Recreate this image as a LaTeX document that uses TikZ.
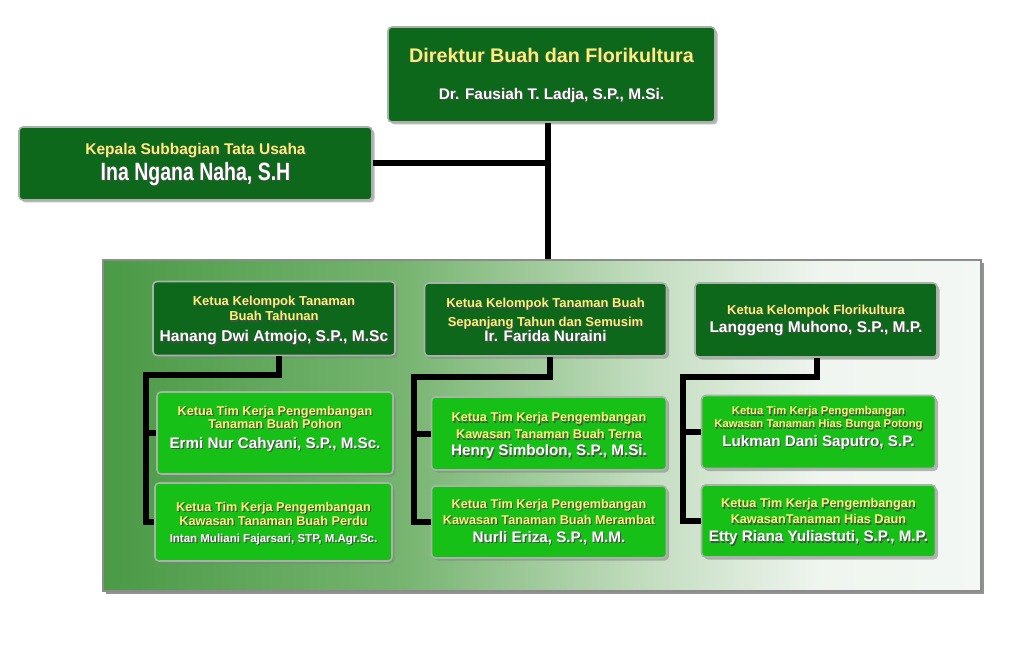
\documentclass[tikz,border=0pt]{standalone}
\usepackage{fontspec}
\setmainfont{Liberation Sans}
\newfontfamily\narrowfont[FakeStretch=0.78]{Liberation Sans}
\usetikzlibrary{shadows}
\definecolor{dgreen}{RGB}{13,104,28}
\definecolor{bgreen}{RGB}{22,192,22}
\definecolor{ylw}{RGB}{244,244,118}
\definecolor{bevel}{RGB}{168,178,168}
\definecolor{pg1}{RGB}{74,154,70}
\definecolor{pg2}{RGB}{118,180,112}
\definecolor{pg3}{RGB}{190,218,186}
\definecolor{pg4}{RGB}{240,245,240}
\pgfdeclarehorizontalshading{panelshade}{100bp}{color(0bp)=(pg1); color(25bp)=(pg1); color(42bp)=(pg2); color(55bp)=(pg3); color(66bp)=(pg4); color(100bp)=(white)}
\newcommand\shd[2]{\makebox[0pt][l]{\smash{\raisebox{-1.1pt}{\hspace{1.1pt}\textcolor{black!70}{#2}}}}\textcolor{#1}{#2}}
\newcommand\yline[2]{\fontsize{#1}{12}\selectfont\shd{ylw}{#2}}
\newcommand\wline[2]{\fontsize{#1}{12}\selectfont\shd{white}{#2}}
\newcommand\tophold[1]{\rule{0pt}{#1pt}}
\tikzset{
  orgbox/.style={rounded corners=4pt, draw=bevel, line width=1.6pt, align=center, inner sep=0pt,
    font=\bfseries, drop shadow={shadow xshift=2.5pt, shadow yshift=-2.5pt, opacity=0.55}},
  darkbox/.style={orgbox, fill=dgreen},
  brightbox/.style={orgbox, fill=bgreen},
  panelbox/.style={draw=black!45, line width=1.4pt, shading=panelshade,
    drop shadow={shadow xshift=2.5pt, shadow yshift=-2.5pt, opacity=0.85}},
  conn/.style={line width=6pt, black, line join=miter}
}
\begin{document}
\begin{tikzpicture}[x=1pt,y=-1pt]
\useasboundingbox (0,0) rectangle (1024,652);
\fill[white] (0,0) rectangle (1024,652);

% panel
\node[panelbox, minimum width=878pt, minimum height=331pt] (panel) at (542,425.5) {};

% junction coordinates
\coordinate (jn) at (548,161);
\coordinate (t1) at (146,375);
\coordinate (t2) at (414,377);
\coordinate (t3) at (683,377);

% top level boxes
\node[darkbox, minimum width=327pt, minimum height=95pt] (dir) at (551.5,74.5)
  {\tophold{17}\yline{19.7}{Direktur Buah dan Florikultura}\\[25pt]
   \wline{15.4}{Dr. Fausiah T. Ladja, S.P., M.Si.}};
\node[darkbox, minimum width=353pt, minimum height=73pt] (kasub) at (195.5,163.5)
  {\tophold{13}\yline{15.5}{Kepala Subbagian Tata Usaha}\\[3pt]
   {\narrowfont\wline{25}{Ina Ngana Naha, S.H}}};

% column heads
\node[darkbox, minimum width=242pt, minimum height=74pt] (h1) at (274,318.5)
  {\tophold{14}\yline{13}{Ketua Kelompok Tanaman}\\[2pt]
   \yline{13}{Buah Tahunan}\\[9pt]
   \wline{15.6}{Hanang Dwi Atmojo, S.P., M.Sc}};
\node[darkbox, minimum width=242pt, minimum height=73pt] (h2) at (545.5,319.5)
  {\tophold{11}\yline{13}{Ketua Kelompok Tanaman Buah}\\[5pt]
   \yline{13}{Sepanjang Tahun dan Semusim}\\[1pt]
   \wline{15.3}{Ir. Farida Nuraini}};
\node[darkbox, minimum width=242pt, minimum height=74pt] (h3) at (816,320)
  {\tophold{9}\yline{13}{Ketua Kelompok Florikultura}\\[3pt]
   \wline{15.5}{Langgeng Muhono, S.P., M.P.}};

% children
\node[brightbox, minimum width=236pt, minimum height=82pt] (c1a) at (275,433)
  {\tophold{10}\yline{12.7}{Ketua Tim Kerja Pengembangan}\\[1pt]
   \yline{12.7}{Tanaman Buah Pohon}\\[8pt]
   \wline{15.2}{Ermi Nur Cahyani, S.P., M.Sc.}\\[0pt]\mbox{}};
\node[brightbox, minimum width=237pt, minimum height=78pt] (c1b) at (273.5,522)
  {\tophold{11.5}\yline{12.7}{Ketua Tim Kerja Pengembangan}\\[2pt]
   \yline{12.7}{Kawasan Tanaman Buah Perdu}\\[5pt]
   \wline{11.5}{Intan Muliani Fajarsari, STP, M.Agr.Sc.}};
\node[brightbox, minimum width=235pt, minimum height=73pt] (c2a) at (549,433.5)
  {\tophold{14}\yline{12.7}{Ketua Tim Kerja Pengembangan}\\[5pt]
   \yline{12.7}{Kawasan Tanaman Buah Terna}\\[5pt]
   \wline{15.2}{Henry Simbolon, S.P., M.Si.}};
\node[brightbox, minimum width=235pt, minimum height=72pt] (c2b) at (549,522)
  {\yline{12.7}{Ketua Tim Kerja Pengembangan}\\[4pt]
   \yline{12.7}{Kawasan Tanaman Buah Merambat}\\[6pt]
   \wline{15.2}{Nurli Eriza, S.P., M.M.}};
\node[brightbox, minimum width=234pt, minimum height=73pt] (c3a) at (818.5,432)
  {\tophold{11.3}\yline{11.3}{Ketua Tim Kerja Pengembangan}\\[1pt]
   \yline{11.3}{Kawasan Tanaman Hias Bunga Potong}\\[4pt]
   \wline{15.2}{Lukman Dani Saputro, S.P.}\\[2pt]\mbox{}};
\node[brightbox, minimum width=234pt, minimum height=72pt] (c3b) at (818.5,521)
  {\tophold{11}\yline{12.7}{Ketua Tim Kerja Pengembangan}\\[4pt]
   \yline{12.7}{KawasanTanaman Hias Daun}\\[6pt]
   \wline{15.2}{Etty Riana Yuliastuti, S.P., M.P.}};

% connectors
\draw[conn] (dir.south -| jn) -- (jn |- panel.north);
\draw[conn] (kasub.east) -- (kasub.east -| jn);
\draw[conn] ([xshift=5pt]h1.south) |- (t1) |- (c1b.west);
\draw[conn] (c1a.west -| t1) -- (c1a.west);
\draw[conn] ([xshift=4pt]h2.south) |- (t2) |- (c2b.west);
\draw[conn] (c2a.west -| t2) -- (c2a.west);
\draw[conn] ([xshift=1pt]h3.south) |- (t3) |- (c3b.west);
\draw[conn] (c3a.west -| t3) -- (c3a.west);
\end{tikzpicture}
\end{document}
